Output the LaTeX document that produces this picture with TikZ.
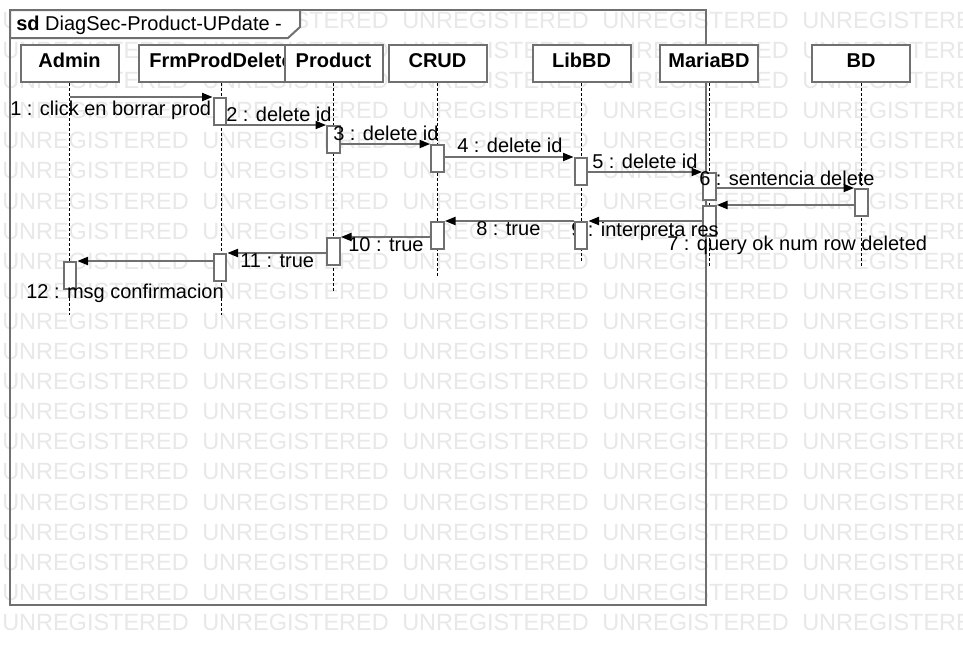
\documentclass[tikz,border=0pt]{standalone}
\usepackage{fontspec}
\setmainfont{Liberation Sans}
\usepackage{tikz}
\usetikzlibrary{arrows.meta,positioning}
\definecolor{umlgray}{RGB}{112,112,112}
\definecolor{wmgray}{RGB}{232,232,232}
\tikzset{
  every node/.style={font=\fontsize{15pt}{18pt}\selectfont, inner sep=0pt},
  wm/.style={anchor=base west, text=wmgray, font=\fontsize{17.6pt}{20pt}\selectfont},
  head/.style={draw=umlgray, line width=1.5pt, fill=white, minimum width=73.5pt,
    minimum height=27.75pt, text height=10.75pt, text depth=5.5pt,
    font=\fontsize{15pt}{18pt}\selectfont\bfseries},
  act/.style={draw=umlgray, line width=1.5pt, fill=white, minimum width=9.5pt,
    minimum height=20.25pt, anchor=north},
  life/.style={black, line width=0.75pt, dash pattern=on 2.25pt off 1.5pt},
  msg/.style={umlgray, line width=1.5pt, -{Triangle[length=8pt,width=6pt,color=black]}},
  lbl/.style={anchor=base west}
}
\begin{document}
\begin{tikzpicture}[x=0.75pt,y=-0.75pt]
  \useasboundingbox (0,0) rectangle (963,644);
  \fill[white] (0,0) rectangle (963,644);
  %watermark rows
  \begin{scope}
    \clip (0,0) rectangle (963,644);
    \foreach \r in {0,...,20}{
      \foreach \c in {0,...,4}{
        \node[wm] (wm-\r-\c) at ({2+200*\c},{28.4+30.1*\r}) {UNREGISTERED};
      }
    }
  \end{scope}
  %draw frame and its title
  \draw[umlgray, line width=1.5pt] (10,10) rectangle (706,605);
  \draw[umlgray, line width=1.5pt, fill=white] (10,10) -- (300,10) -- (300,27)
    -- (288,38) -- (10,38) -- cycle;
  \node[lbl] (title) at (16,30) {\textbf{sd} DiagSec-Product-UPdate -};
  %draw lifelines
  \draw[life] (69.5,83) -- (69.5,315);
  \draw[life] (221,83) -- (221,315);
  \draw[life] (333.5,83) -- (333.5,293);
  \draw[life] (437.5,83) -- (437.5,278);
  \draw[life] (581.5,83) -- (581.5,262);
  \draw[life] (709.5,83) -- (709.5,268);
  \draw[life] (861.5,83) -- (861.5,268);
  %insert lifeline heads
  \node[head] (adm) at (69.5,63.5) {Admin};
  \node[head, minimum width=123pt] (frm) at (221,63.5) {FrmProdDelete};
  \node[head] (prod) at (333.5,63.5) {Product};
  \node[head] (crud) at (437.5,63.5) {CRUD};
  \node[head] (lib) at (581.5,63.5) {LibBD};
  \node[head] (maria) at (709,63.5) {MariaBD};
  \node[head] (bd) at (861,63.5) {BD};
  %draw activation boxes
  \node[act] (frm1) at (220,97) {};
  \node[act] (prod1) at (333.5,125) {};
  \node[act] (crud1) at (437.5,144) {};
  \node[act] (lib1) at (581,157) {};
  \node[act] (maria1) at (709.5,172) {};
  \node[act] (bd1) at (861.5,188) {};
  \node[act, minimum height=22.5pt] (maria2) at (709.5,205) {};
  \node[act] (crud2) at (437.5,221) {};
  \node[act] (prod2) at (333.5,237) {};
  \node[act] (frm2) at (220,253) {};
  \node[act] (adm1) at (70,261) {};
  %label half hidden by the LibBD box
  \node[lbl] (m9) at (571,236) {9 : interpreta res};
  \node[act] (lib2) at (581,221) {};
  %draw messages
  \draw[msg] (adm.south |- frm1.north) -- (frm1.north west);
  \draw[msg] (frm1.east |- prod1.north) -- (prod1.north west);
  \draw[msg] (prod1.east |- crud1.north) -- (crud1.north west);
  \draw[msg] (crud1.east |- lib1.north) -- (lib1.north west);
  \draw[msg] (lib1.east |- maria1.north) -- (maria1.north west);
  \draw[msg] (maria1.east |- bd1.north) -- (bd1.north west);
  \draw[msg] (bd1.west |- maria2.north) -- (maria2.north east);
  \draw[msg] (maria2.west |- lib2.north) -- (lib2.north east);
  \draw[msg] (lib2.north west) -- (crud2.north east);
  \draw[msg] (crud2.west |- prod2.north) -- (prod2.north east);
  \draw[msg] (prod2.west |- frm2.north) -- (frm2.north east);
  \draw[msg] (frm2.west |- adm1.north) -- (adm1.north east);
  %insert message labels
  \node[lbl] (m1) at (10,115) {1 : click en borrar prod};
  \node[lbl] (m2) at (226,121) {2 : delete id};
  \node[lbl] (m3) at (333,140) {3 : delete id};
  \node[lbl] (m4) at (457,152) {4 : delete id};
  \node[lbl] (m5) at (592,168) {5 : delete id};
  \node[lbl] (m6) at (699,185) {6 : sentencia delete};
  \node[lbl] (m7) at (667,250) {7 : query ok num row deleted};
  \node[lbl] (m8) at (476,235) {8 : true};
  \node[lbl] (m10) at (348,251) {10 : true};
  \node[lbl] (m11) at (240,267) {11 : true};
  \node[lbl] (m12) at (26,298) {12 : msg confirmacion};
\end{tikzpicture}
\end{document}
